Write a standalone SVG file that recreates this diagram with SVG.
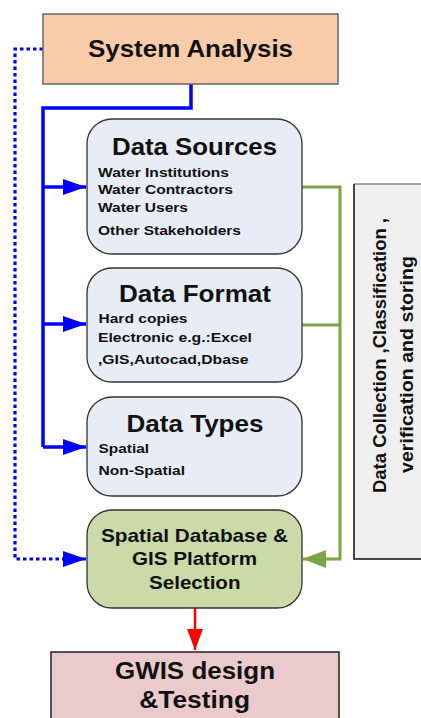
<svg xmlns="http://www.w3.org/2000/svg" width="421" height="718" viewBox="0 0 421 718">
<style>
text{font-family:"Liberation Sans",Arial,sans-serif;font-weight:bold;fill:#111}
.t{font-size:24px}
.s{font-size:13px}
.m{font-size:19px}
.g{font-size:18px}
.db{fill:#e7ecf6;stroke:#333;stroke-width:1.3}
.blue{fill:none;stroke:#0000ff;stroke-width:3.5}
.dot{fill:none;stroke:#0000ff;stroke-width:3.2;stroke-dasharray:3.5 3}
.green{fill:none;stroke:#7ba443;stroke-width:3}
</style>
<defs>
<marker id="ab" markerUnits="userSpaceOnUse" markerWidth="24" markerHeight="16" refX="23" refY="8" orient="auto" viewBox="0 0 24 16"><path d="M0,0 L23,8 L0,16 Z" fill="#0000ff"/></marker>
<marker id="ag" markerUnits="userSpaceOnUse" markerWidth="24" markerHeight="18" refX="23" refY="9" orient="auto" viewBox="0 0 24 18"><path d="M0,0 L23,9 L0,18 Z" fill="#7ba443"/></marker>
<marker id="ar" markerUnits="userSpaceOnUse" markerWidth="22" markerHeight="16" refX="21" refY="8" orient="auto" viewBox="0 0 22 16"><path d="M0,0 L21,8 L0,16 Z" fill="#ff0000"/></marker>
</defs>
<g id="connectors">
<path class="blue" d="M191,84 V108 H43 V447"/>
<path class="blue" d="M43,187 H86" marker-end="url(#ab)"/>
<path class="blue" d="M43,324 H86" marker-end="url(#ab)"/>
<path class="blue" d="M43,447 H86" marker-end="url(#ab)"/>
<path class="dot" d="M43,49 H15 V559 H66"/>
<path fill="none" stroke="#0000ff" stroke-width="3" d="M64,559 H86" marker-end="url(#ab)"/>
<path class="green" d="M302,187 H340 V559 H310"/>
<path class="green" d="M302,325 H340"/>
<path fill="none" stroke="#7ba443" stroke-width="3" d="M320,559 H303" marker-end="url(#ag)"/>
<path fill="none" stroke="#ff0000" stroke-width="2.5" d="M195,608 V650" marker-end="url(#ar)"/>
</g>
<g id="system-analysis">
<rect x="43" y="14" width="295" height="70" fill="#f8cca9" stroke="#666" stroke-width="1.5"/>
<text class="t" x="88" y="57" font-size="25" textLength="205" lengthAdjust="spacingAndGlyphs">System Analysis</text>
</g>
<g id="data-sources">
<rect class="db" x="87" y="119" width="215" height="135" rx="25"/>
<text class="t" x="112" y="155" textLength="165" lengthAdjust="spacingAndGlyphs">Data Sources</text>
<text class="s" x="98" y="176.7" textLength="131" lengthAdjust="spacingAndGlyphs">Water Institutions</text>
<text class="s" x="98" y="194" textLength="135" lengthAdjust="spacingAndGlyphs">Water Contractors</text>
<text class="s" x="98" y="212" textLength="90" lengthAdjust="spacingAndGlyphs">Water Users</text>
<text class="s" x="98" y="235" textLength="143" lengthAdjust="spacingAndGlyphs">Other Stakeholders</text>
</g>
<g id="data-format">
<rect class="db" x="87" y="268" width="215" height="114" rx="25"/>
<text class="t" x="119" y="302" textLength="152" lengthAdjust="spacingAndGlyphs">Data Format</text>
<text class="s" x="98.5" y="323" textLength="89" lengthAdjust="spacingAndGlyphs">Hard copies</text>
<text class="s" x="98" y="341.5" textLength="154" lengthAdjust="spacingAndGlyphs">Electronic e.g.:Excel</text>
<text class="s" x="98" y="364" textLength="150.5" lengthAdjust="spacingAndGlyphs">,GIS,Autocad,Dbase</text>
</g>
<g id="data-types">
<rect class="db" x="87" y="397" width="215" height="99" rx="25"/>
<text class="t" x="126.5" y="431.5" textLength="137" lengthAdjust="spacingAndGlyphs">Data Types</text>
<text class="s" x="98.5" y="453" textLength="50.5" lengthAdjust="spacingAndGlyphs">Spatial</text>
<text class="s" x="98.5" y="475" textLength="86.5" lengthAdjust="spacingAndGlyphs">Non-Spatial</text>
</g>
<g id="spatial-database">
<rect x="87" y="510" width="215" height="98" rx="25" fill="#cbdaa9" stroke="#333" stroke-width="1.3"/>
<text class="m" x="101" y="541.5" textLength="187" lengthAdjust="spacingAndGlyphs">Spatial Database &amp;</text>
<text class="m" x="132" y="565" textLength="125" lengthAdjust="spacingAndGlyphs">GIS Platform</text>
<text class="m" x="149" y="588.5" textLength="91.5" lengthAdjust="spacingAndGlyphs">Selection</text>
</g>
<g id="gwis">
<rect x="51" y="652" width="288" height="80" fill="#eacaca" stroke="#222" stroke-width="1.5"/>
<text class="t" x="115" y="679.3" font-size="23" textLength="160" lengthAdjust="spacingAndGlyphs">GWIS design</text>
<text class="t" x="139.3" y="708.3" font-size="23" textLength="110.7" lengthAdjust="spacingAndGlyphs">&amp;Testing</text>
</g>
<g id="data-collection">
<rect x="354" y="184" width="80" height="375" fill="#efefef" stroke="none"/>
<path d="M354,184 H421" stroke="#888" stroke-width="1.5" fill="none"/>
<path d="M354,184 V559 H421" stroke="#111" stroke-width="1.5" fill="none"/>
<text class="g" transform="translate(386,493) rotate(-90)" textLength="275" lengthAdjust="spacingAndGlyphs">Data Collection ,Classification ,</text>
<text class="g" transform="translate(413,473) rotate(-90)" textLength="217" lengthAdjust="spacingAndGlyphs">verification and storing</text>
</g>
</svg>
